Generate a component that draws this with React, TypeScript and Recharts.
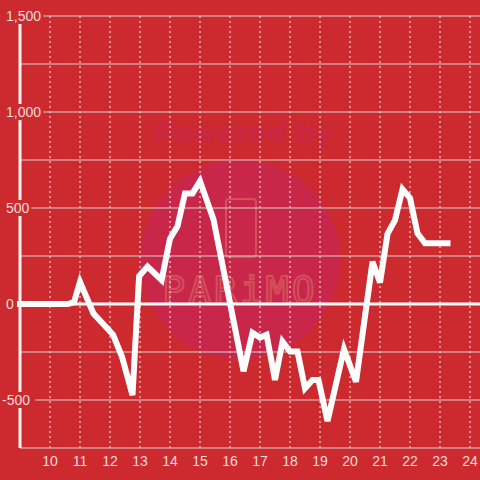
import React from "react";
import {
  LineChart,
  Line,
  XAxis,
  YAxis,
  CartesianGrid,
  ReferenceLine,
} from "recharts";

// hora del día (decimal) y valor de la serie
const hours = [
  9, 10.6, 10.8, 11, 11.45, 11.75, 12.1, 12.4, 12.75, 12.97, 13.25, 13.72,
  14, 14.25, 14.5, 14.75, 15, 15.45, 16.45, 16.75, 17, 17.22, 17.5, 17.75,
  18, 18.25, 18.5, 18.75, 18.95, 19.25, 19.8, 20.2, 20.75, 21, 21.25, 21.5,
  21.75, 22, 22.25, 22.5, 23.25,
];
const values = [
  0, 0, 10, 115, -50, -100, -160, -275, -475, 145, 195, 125, 340, 405, 576,
  576, 640, 440, -350, -150, -175, -160, -396, -196, -248, -248, -439, -396,
  -396, -610, -235, -405, 220, 112, 365, 437, 598, 552, 368, 316, 316,
];

const xTicks = [10, 11, 12, 13, 14, 15, 16, 17, 18, 19, 20, 21, 22, 23, 24];
const yTicks = [-750, -500, -250, 0, 250, 500, 750, 1000, 1250, 1500];
const yLabelled = [-500, 0, 500, 1000, 1500];

const BG = "#cc2a2f";
const LABEL = "#f4dcdc";
const FONT = '"Liberation Sans", Arial, sans-serif';

const data = hours.map((h, i) => ({ h, v: values[i] }));

function fmt(v: number) {
  return v.toLocaleString("en-US");
}

function YTick(props: any) {
  const { y, payload } = props;
  const v = payload.value as number;
  if (!yLabelled.includes(v)) return null;
  const label = fmt(v);
  const x0 = v < 0 ? 2 : 6;
  const w = label.replace(/[,]/g, "").length * 7.8 + (label.includes(",") ? 4 : 0);
  return (
    <g>
      <rect x={0} y={y - 8} width={x0 + w + 2} height={16} fill={BG} />
      <text
        x={x0}
        y={y}
        dy="0.36em"
        fill={LABEL}
        fontSize={14}
        fontFamily={FONT}
        textAnchor="start"
      >
        {label}
      </text>
    </g>
  );
}

function Watermark() {
  return (
    <svg
      width={480}
      height={480}
      style={{ position: "absolute", left: 0, top: 0 }}
    >
      <circle cx={240} cy={260} r={100} fill="#c9274a" />
      <text
        x={243}
        y={142}
        textAnchor="middle"
        fontSize={27}
        fontWeight="bold"
        fontStyle="italic"
        fontFamily='"DejaVu Sans", sans-serif'
        fill="#c92744"
      >
        Powered by
      </text>
      <rect
        x={226}
        y={199}
        width={30}
        height={58}
        rx={3}
        fill="none"
        stroke="#d3505d"
        strokeWidth={2}
      />
      <text
        x={240}
        y={303}
        textAnchor="middle"
        fontSize={38}
        letterSpacing={3}
        fontFamily='"DejaVu Sans Mono", monospace'
        fill="none"
        stroke="#d3505d"
        strokeWidth={2}
      >
        PARiMO
      </text>
    </svg>
  );
}

export default function App() {
  return (
    <div
      style={{
        position: "fixed",
        left: 0,
        top: 0,
        width: 480,
        height: 480,
        overflow: "hidden",
        background: BG,
      }}
    >
      <Watermark />
      <div style={{ position: "absolute", left: 0, top: 0 }}>
        <LineChart
          width={500}
          height={480}
          data={data}
          margin={{ top: 16, right: 0, bottom: 0, left: 0 }}
        >
          <CartesianGrid
            vertical={false}
            stroke="#d8d0d0"
            strokeWidth={1.2}
          />
          <CartesianGrid
            horizontal={false}
            stroke="#f2f2f2"
            strokeDasharray="2 3"
            strokeWidth={1}
          />
          <XAxis
            dataKey="h"
            type="number"
            domain={[9, 25]}
            ticks={xTicks}
            height={32}
            axisLine={false}
            tickLine={false}
            tickMargin={2}
            tick={{ fill: LABEL, fontSize: 14, fontFamily: FONT }}
          />
          <YAxis
            type="number"
            domain={[-750, 1500]}
            ticks={yTicks}
            width={20}
            tickLine={false}
            axisLine={{ stroke: "#f4f4f4", strokeWidth: 3 }}
            tick={<YTick />}
          />
          <ReferenceLine y={0} stroke="#ffffff" strokeWidth={3} />
          <Line
            type="linear"
            dataKey="v"
            stroke="#ffffff"
            strokeWidth={6}
            strokeLinejoin="miter"
            strokeLinecap="square"
            dot={false}
            isAnimationActive={false}
          />
        </LineChart>
      </div>
    </div>
  );
}
